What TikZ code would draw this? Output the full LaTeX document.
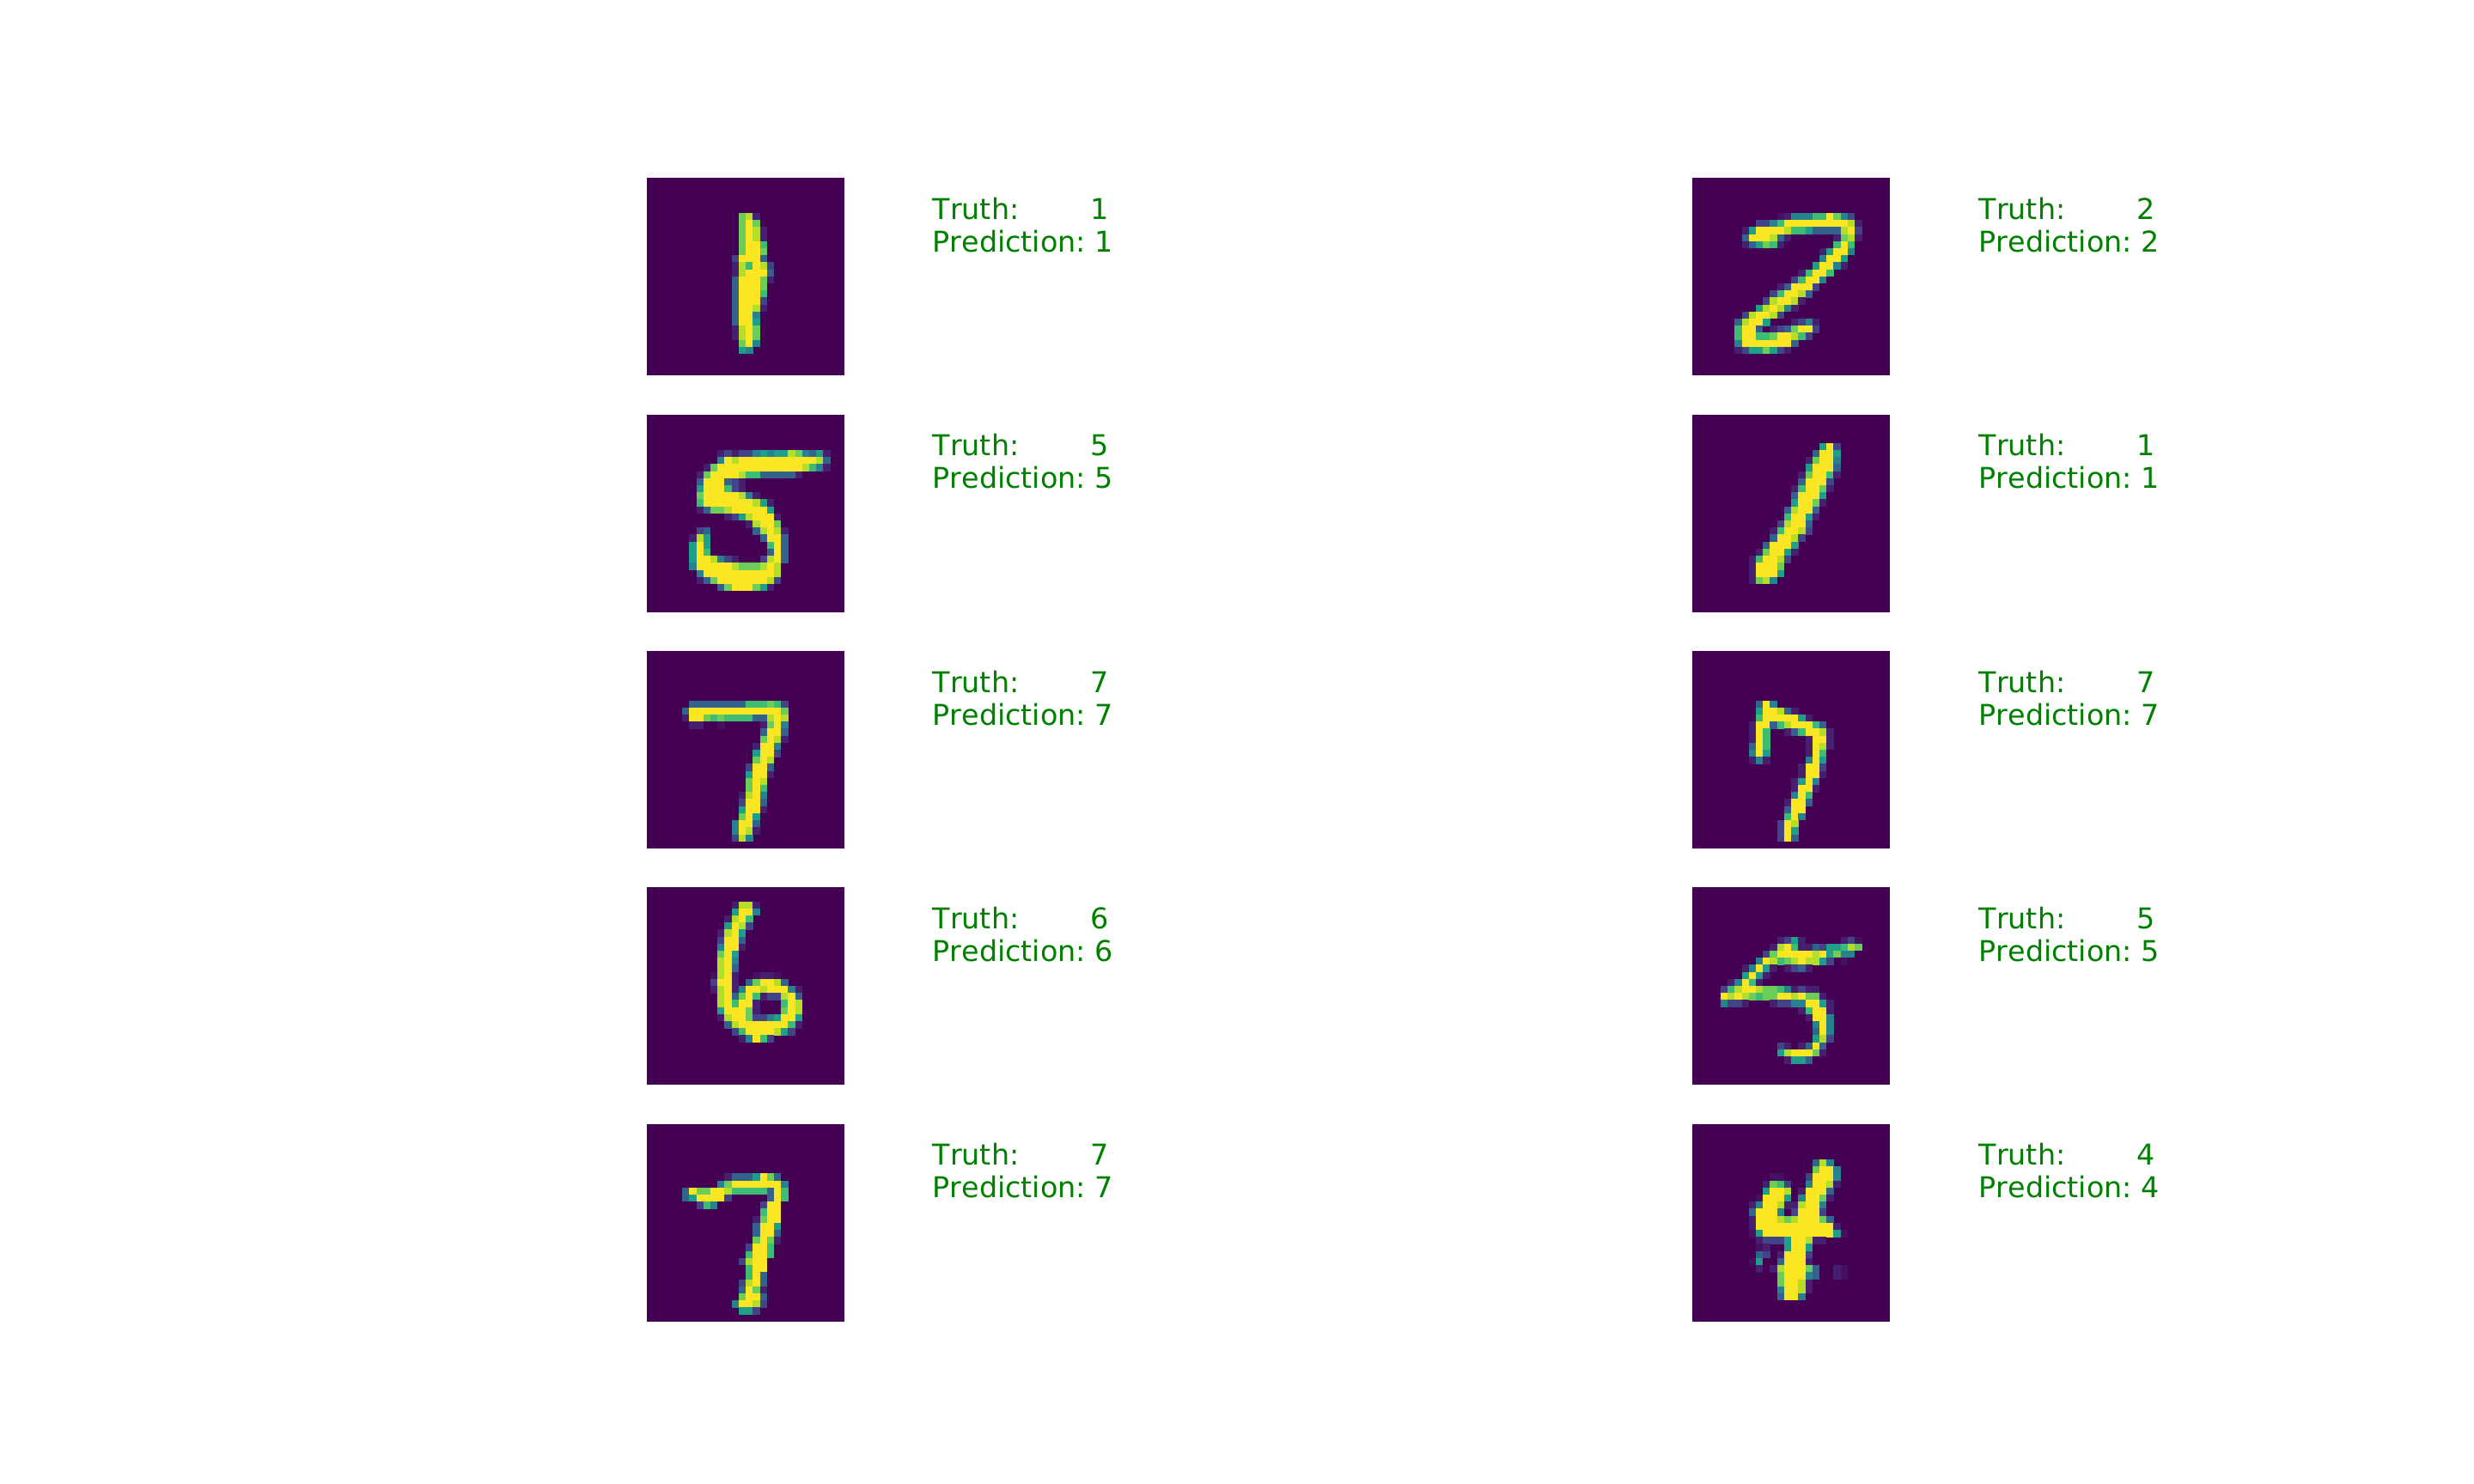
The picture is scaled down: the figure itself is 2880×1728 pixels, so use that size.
\documentclass[tikz,border=0pt]{standalone}
\usepackage{xcolor}
\usepackage{fontspec}
\setmainfont[Kerning=Off]{DejaVu Sans}
\definecolor{v0}{HTML}{440154}
\definecolor{va}{HTML}{45105F}
\definecolor{v1}{HTML}{471F70}
\definecolor{v2}{HTML}{414487}
\definecolor{v3}{HTML}{33638D}
\definecolor{v4}{HTML}{26828E}
\definecolor{v5}{HTML}{1F9E89}
\definecolor{v6}{HTML}{3DBC74}
\definecolor{v7}{HTML}{6DCD59}
\definecolor{v8}{HTML}{B5DE2B}
\definecolor{v9}{HTML}{FAE622}
\definecolor{okgreen}{HTML}{008000}
\tikzset{
  lbl/.style={anchor=north west, inner sep=0pt, align=left, text=okgreen, font=\fontsize{9.49pt}{10.7pt}\selectfont},
}
\newcount\pxcol
\def\pxscan#1{\ifx#1\relax\else
  \if#10\else\fill[v#1] (\the\pxcol,\r) rectangle +(1.03,1.03);\fi
  \advance\pxcol by 1 \expandafter\pxscan\fi}
% one 28x28 picture: x, y, then row/first column/levels
\newcommand{\digitimg}[3]{
  \begin{scope}[shift={(#1,#2)}, x=0.08214cm, y=-0.0820cm]
  \fill[v0] (0,0) rectangle (28,28);
  \foreach \r/\c/\v in {#3} {\pxcol=\c\relax\expandafter\pxscan\v\relax}
  \end{scope}}
\newcommand{\truthline}[2]{\makebox[1.84cm][l]{Truth:}#1\\Prediction:\hspace{0.10cm}#2}

\begin{document}
\begin{tikzpicture}[x=0.01cm, y=-0.01cm]
\useasboundingbox (0,0) rectangle (2880,1728);
% left column
\digitimg{753}{207}{5/13/781,6/13/797,7/13/7981,8/13/7981,9/13/7996,10/13/7997,11/12/29993,12/12/186982,13/12/189993,14/12/399971,15/12/39997,16/12/39996,17/12/39992,18/12/39981,19/12/3994,20/12/3995,21/12/1897,22/12/1897,23/13/794,24/13/54}
\digitimg{753}{483}{5/10/1212245455874351,6/10/4989999999999983,7/8/179999999999998641,8/7/1799998663333 31,9/7/3999321,10/7/5999621,11/7/799999841,12/7/69999999851,13/7/13778999995,14/11/12589991,15/14/18997,16/7/23,16/15/38981,17/6/185,17/16/3993,18/6/595,18/17/693,19/6/596,19/17/393,20/6/5998421,20/16/2893,21/6/4999998777898,22/7/499999999998,23/7/137999999982,24/10/37999751}
\digitimg{753}{758.2}{7/6/33333333666762,8/5/399999999999997,9/5/199767666633898,10/6/11,10/10/a,10/16/1794,11/16/3993,12/16/7981,13/15/1994,14/15/5992,15/15/798,16/14/2993,17/14/5991,18/14/798,19/14/796,20/13/1894,21/13/2993,22/13/5991,23/13/795,24/12/4993,25/12/4981,26/12/284}
\digitimg{753}{1033.2}{2/12/1881,3/12/5994,4/11/1896,5/11/5982,6/10/1895,7/10/2993,8/10/4991,9/10/795,10/10/894,11/10/893,12/9/a891,12/15/a11a,13/9/2991,13/14/379983,14/9/1891499899941,15/10/893796122893,16/10/896991,16/19/698,17/10/599971,17/19/798,18/10/189972245995,19/11/38999999961,20/12/269999852,21/13/14962}
\digitimg{753}{1309}{7/11/13335973,8/10/4799999994,9/5/397799866666396,10/5/3599992,10/17/396,11/7/264,11/16/299,12/16/699,13/15/1799,14/15/3995,15/15/3993,16/15/7971,17/14/2996,18/14/6996,19/13/2899,20/14/699,21/14/693,22/13/2893,23/13/3971,24/13/7993,25/12/49982,26/13/552}
% right column
\digitimg{1970}{207}{5/12/a1444669742,6/9/224699999999981,7/7/15999986653333892,8/7/3999831,8/20/1781,9/7/135761,9/20/696,10/18/15994,11/18/4995,12/17/59941,13/15/16996,14/14/26994,15/12/139992,16/11/269983,17/10/289981,18/9/589841,19/7/289982,20/6/38995,20/14/1241,21/6/6993,21/11/1237992,22/6/69966799862,23/6/499999993,24/6/12557521}
\digitimg{1970}{483}{4/18/592,5/17/3995,6/16/17994,7/16/59993,8/15/179961,9/15/39992,10/14/169971,11/14/39995,12/14/59971,13/13/38993,14/13/69951,15/12/28993,16/11/169982,17/11/39982,18/10/39995,19/9/179951,20/8/169982,21/8/19997,22/8/19995,23/8/1784}
\digitimg{1970}{758.2}{7/9/394,8/9/599831,9/9/69999951,10/8/19936899963,11/8/196,11/13/1369981,12/8/196,12/16/1991,13/8/396,13/16/1981,14/8/495,14/16/196,15/8/141,15/16/495,16/15/1992,17/15/1991,18/14/1594,19/14/1991,20/14/496,21/13/1993,22/13/399,23/13/694,24/12/298,25/12/295,26/12/293}
\digitimg{1970}{1033.2}{7/12/1251,7/21/12a,8/11/1896113255687,9/10/27999998957 44,10/9/49867898852,10/21/a,11/7/14951,11/13/1231,12/7/5951,13/5/14961,14/4/26899877641211,15/4/989876779989771,16/4/4221,16/11/122449951,17/15/16991,18/16/1994,19/17/494,20/17/394,21/17/582,22/12/21,22/15/1393,23/12/5899971,24/13/1553}
\digitimg{1970}{1309}{5/17/384,6/17/7994,7/11/aa,7/16/29994,8/10/1762,8/16/49981,9/10/5998,9/15/19993,10/9/a9995,10/15/49971,11/8/14998118994,12/8/39994,12/14/29992,13/8/199987899973,14/8/1999999999991,15/8/a599999999995a,16/9/1222599811,17/9/a1,17/13/5995,18/9/32,18/12/19992,19/8/a5,19/12/39991,20/9/1,20/11/1899973,20/20/1a,21/12/799943,21/20/1a,22/12/79981,23/12/49981,24/12/3994}
% labels
\node[lbl] (res1) at (1085,229.5) {\truthline{1}{1}};
\node[lbl] (res2) at (1085,504.5) {\truthline{5}{5}};
\node[lbl] (res3) at (1085,780.5) {\truthline{7}{7}};
\node[lbl] (res4) at (1085,1055.5) {\truthline{6}{6}};
\node[lbl] (res5) at (1085,1330.5) {\truthline{7}{7}};
\node[lbl] (res6) at (2303,229.5) {\truthline{2}{2}};
\node[lbl] (res7) at (2303,504.5) {\truthline{1}{1}};
\node[lbl] (res8) at (2303,780.5) {\truthline{7}{7}};
\node[lbl] (res9) at (2303,1055.5) {\truthline{5}{5}};
\node[lbl] (res10) at (2303,1330.5) {\truthline{4}{4}};
\end{tikzpicture}
\end{document}
